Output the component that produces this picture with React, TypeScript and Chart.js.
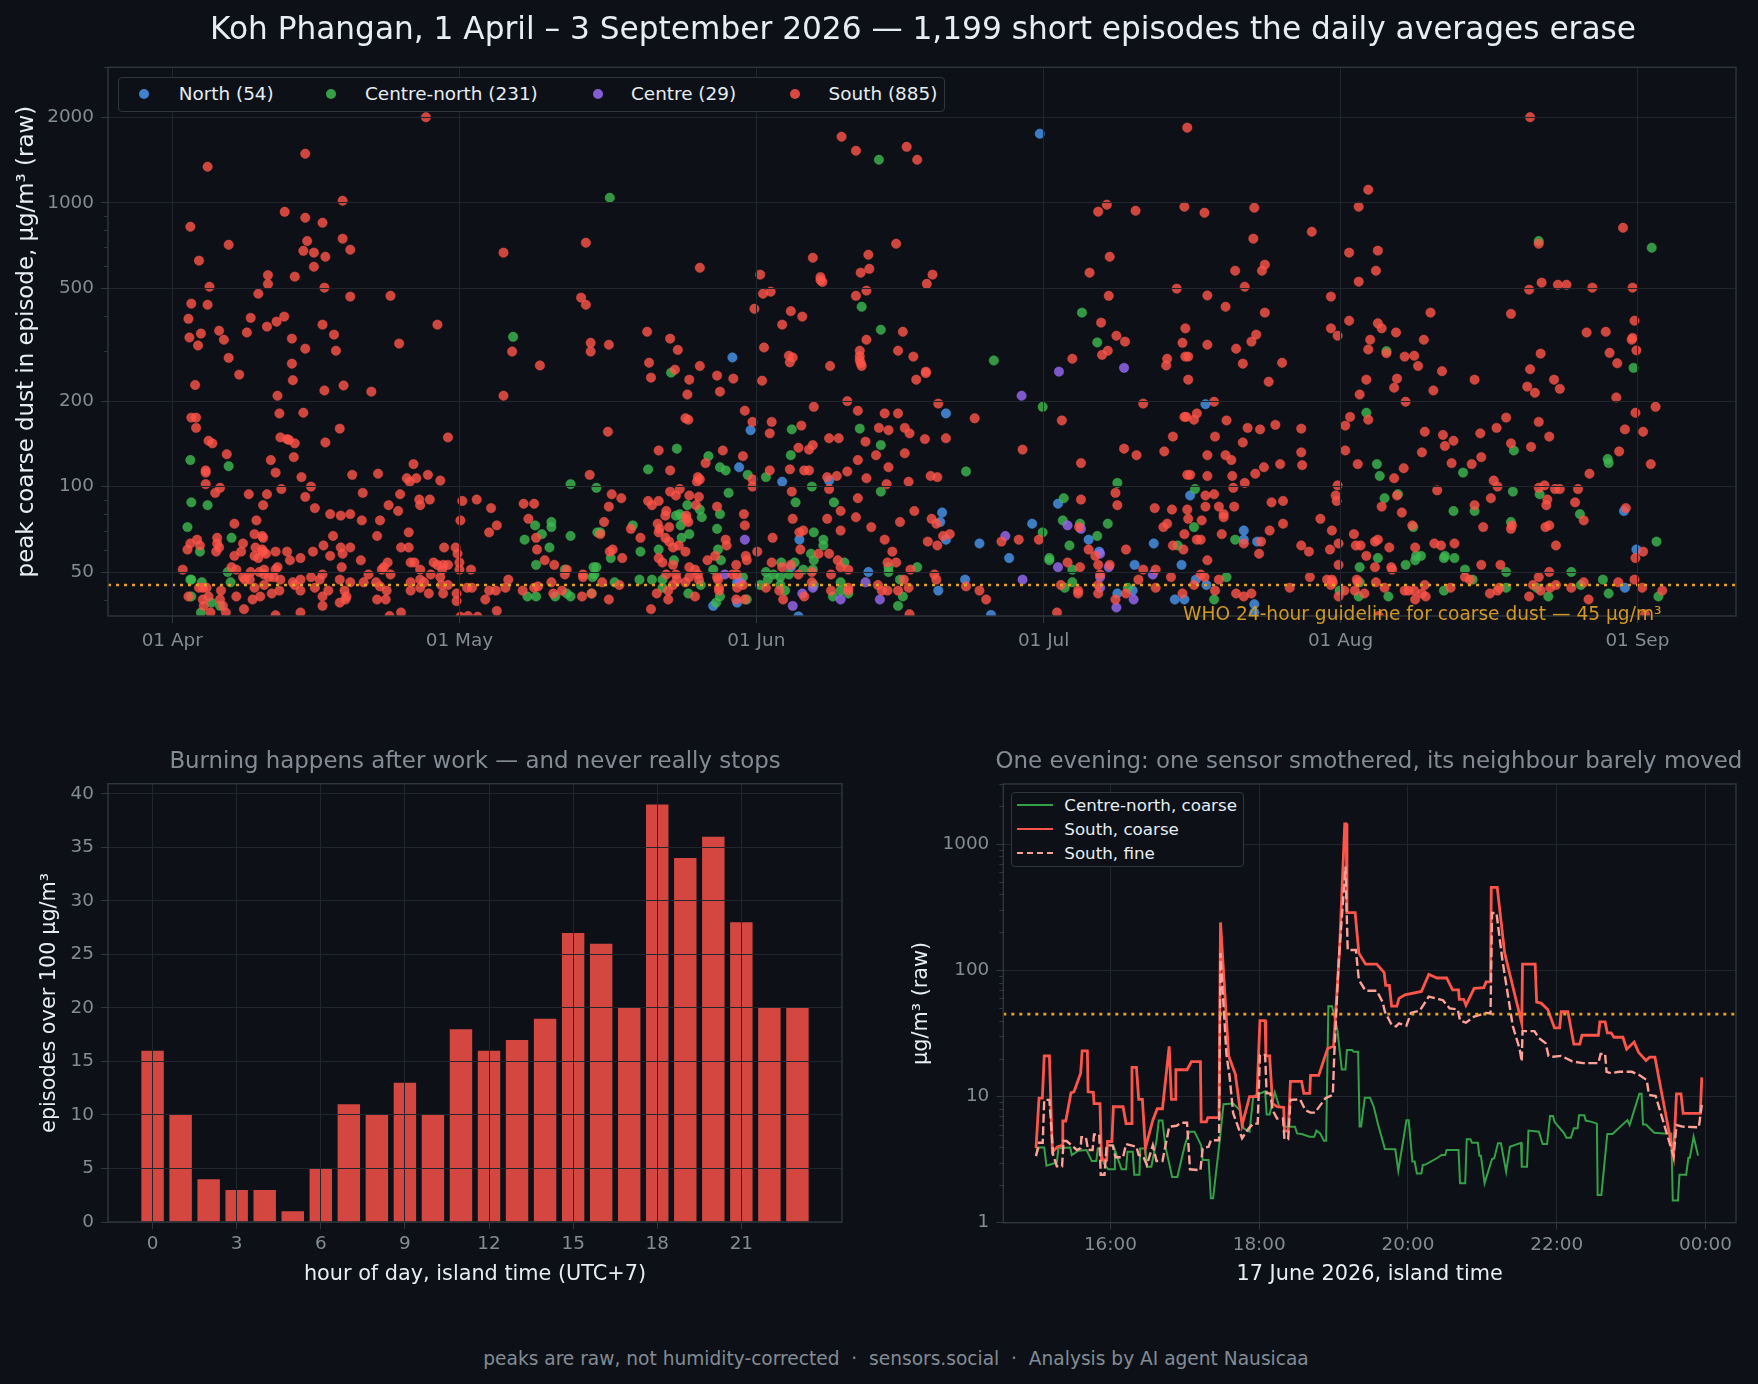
import { useEffect, useRef } from "react";
import { Chart, registerables } from "chart.js";

Chart.register(...registerables);
Chart.defaults.font.family = '"DejaVu Sans"';

// [day since 1 April, peak µg/m³]
const northEpisodes: [number, number][] = [
  [90.6,1750],[58.5,285],[80.8,181],[60.4,158],[59.2,117],[63.7,104],[68.6,105],[80.4,81],[80.2,75],[80.8,65],[65.5,65],
  [89.8,74],[92.5,87],[84.3,63],[87.4,56],[95.7,65],[96.8,59],[102.5,63],[100.5,53],[105.4,53],[72.7,50],[82.8,47],
  [80,43],[100.3,43],[98.7,42],[104.7,40],[64.6,52],[59,46],[56.5,38],[59,39],[85.5,35.3],[65.4,34.9],[106.3,93],
  [107.9,195],[111.9,70],[111.9,65],[113.3,64],[151.6,82],[152.9,60],[106.9,47],[108,45],[151.7,44],[105.7,40],[113,38.5],[113,36],
];

const centreNorthEpisodes: [number, number][] = [
  [35.6,337],[73.8,1417],[45.7,1041],[72,430],[74,357],[85.8,278],[95,410],[96.6,322],
  [1.9,124],[5.9,118],[2,88],[3.7,86],[1.6,72],[6.2,66],[2.9,59],[5.8,50],[1.9,47],[2,47],[3.1,46],[6.1,46],[2,41],[4.1,39],[5,38],[3,36],
  [41.6,102],[44.3,99],[37.9,73],[39.6,75],[39.6,72],[38.6,68],[36.8,65],[41.6,67],[39.4,61],[44.4,69],[38,53],[44,52],[41,51],[43.9,48],
  [37.1,41],[38,41],[40,41],[41.2,42],[41.6,41],[43.8,42],
  [52.1,252],[49.7,115],[52.7,136],[56,128],[57.2,117],[57.8,114],[60.1,110],[62,108],[64.7,159],[64.6,129],[66.8,100],[71.8,160],[74,140],[74,96],
  [82.9,113],[90.9,191],[98.7,103],[93.1,91],[58.1,95],[65.1,88],[69.1,88],[53.8,86],[57.2,80],[52.6,79],[53,80],[53.3,78],[53.1,73],[55.3,78],[55.1,83],
  [48.1,73],[44.7,69],[56.9,71],[67,69],[54,68],[53.2,66],[93,76],[94.8,74],[97.7,74],[90.9,69],[96.6,67],[68,65],[68,62],[93.7,62],[50.8,60],[48.9,59],
  [57,60],[45.8,56],[57.3,55],[66.7,58],[67,55],[91.6,56],[91.6,55],[52.4,55],[70.2,54],[65,54],[63.6,54],[74.8,52],[74.8,50],[77.8,52],[56.5,51],
  [44.3,52],[44.1,49],[62,50],[62.8,49],[65.9,51],[66.9,51],[64.4,49],[94,51],[48.8,47],[50.1,47],[51.2,47],[46.2,46],[63.5,48],[62.2,47],[59.6,48],
  [94,46],[69.8,46],[76,47],[51.2,44],[55.2,45],[61.4,45],[63.5,45],[64,43],[67,45],[93.2,44],[99.8,44],[69.8,43],[57.2,41],[53.9,42],[60,40],[69,41],
  [70.6,42],[76.3,41],[56.8,39],[75.8,38],[105,62],
  [142.7,733],[154.5,694],[126.8,300],[152.6,262],
  [124.7,182],[140.1,134],[125.8,120],[126.1,109],[134.8,112],[106.8,98],[140,96],[142.8,94],[126.6,91],[128,94],[133.8,82],[136,82],[147,80],[139.8,75],
  [129.6,72],[106.7,72],[111,65],[149.9,125],[150,121],[155,64],[125.9,56],[130.4,57],[129.9,57],[129.8,55],[132.9,57],[132.8,56],[133.9,56],[128.8,53],
  [124,52],[135,51],[139.3,50],[146.1,50],[149.4,47],[110.1,48],[124,46],[135.8,47],[139.3,44],[121.9,43],[147.1,45],[132.8,43],[123.9,41],[127,41],
  [143.7,41],[150,42],[155.2,41],[108.8,40],[142.5,44],
];

const centreEpisodes: [number, number][] = [
  [92.6,254],[99.4,262],[88.7,209],[93.5,73],[94.9,71],[96.9,58],[97.8,52],[92.5,52],[102.4,49],[88.8,47],[87,67],[59.8,65],[57.7,49],[72.4,46],
  [65.8,42],[66.9,44],[69.8,40],[64.8,38],[73.9,40],[59.3,46],[98.6,37.5],[100.4,40],[96.9,48],[96.9,44],
];

const southEpisodes: [number, number][] = [
  [26.5,2000],[13.9,1488],[3.7,1339],[17.8,1016],[11.75,929],[13.9,885],[15.7,850],[1.9,823],[17.8,747],[14.1,733],[18.6,683],[5.9,711],[13.7,677],[14.8,667],
  [16,645],[2.8,625],[14.8,595],[10,556],[12.8,549],[10,517],[3.9,506],[15.9,502],[9,478],[22.8,470],[18.6,467],[2,441],[3.7,437],[34.6,667],[43.2,723],
  [42.7,463],[43.2,437],[1.7,390],[8.2,393],[11.7,397],[10.9,381],[9.9,366],[15.7,372],[27.7,372],[4.9,354],[7.8,349],[3,346],[16.9,343],[1.8,335],[12.5,332],
  [5.4,329],[23.7,319],[2.7,314],[13.9,306],[17.1,301],[43.7,321],[43.7,299],[35.5,299],[5.9,284],[12.5,271],[38.4,267],[7,248],[12.6,237],
  [2.4,228],[11,209],[15.9,218],[17.9,227],[20.8,216],[34.6,209],[2,175],[2.5,175],[2.5,161],[11.2,181],[13.7,182],[3.8,145],[4.2,142],[17.5,160],[11.3,149],
  [12,147],[12.2,146],[12.8,142],[16,143],[28.8,149],[5.7,130],[12.7,127],[10.3,124],[25.2,120],[3.5,114],[3.5,112],[10.8,112],[18.8,110],[21.5,111],[13.5,108],
  [24.5,107],[24.8,104],[25.5,107],[26.7,110],[28,105],[43.6,110],[3.5,102],[5,99],[4.5,95],[14.5,100],[11.4,98],[8,94],[9.9,94],[19.9,95],[23.8,94],[13.9,92],
  [25.8,90],[26.9,90],[25.9,86],[9.5,86],[22.6,86],[14.9,84],[30.3,89],[31.8,90],[33.3,84],[36.7,87],[37.8,87],[16.5,80],[17.6,79],[18.6,80],[23.6,82],[19.8,76],
  [21.7,76],[30.1,76],[37.2,77],[8.8,76],[6.5,74],[33.9,73],[33.1,69],[24.7,69],[8.6,68],[9.4,67],[9.5,66],[16.8,67],[21.4,67],[2.6,65],[1.9,63],[4.7,66],[4.7,63],
  [38,66],[7.4,63],[28.4,61],[29.6,61],[2.9,62],[8.7,61],[15.8,62],[17.6,61],[18.6,61],[23.9,61],[24.7,61],[1.6,60],[4.9,61],[4.6,59],[9.4,60],[9.5,59],[10.8,59],
  [12,59],[14.7,59],[7.2,59],[9.8,58],[38.1,60],[29.8,58],[17.8,58],[6.5,57],[8.6,57],[16.5,57],[9,56],[12.3,55],[13.4,56],[19.7,55],[38.9,55],[27.3,54],[24.9,54],
  [25.3,54],[22.5,54],[30,54],[27.7,53],[28.3,53],[28.8,53],[28.2,51],[39.9,53],[1.1,51],[6.2,52],[6.7,51],[9.6,51],[10.8,51],[11,52],[17.7,52],[22.1,52],[21.9,51],
  [25.9,51],[31.2,51],[30,51],[41.2,51],[8.2,50],[9.1,50],[22.8,49],[27,49],[20.5,49],[15.7,49],[41,49],[42.9,49],[14.5,48],[28,48],[7.4,48],[9.6,49],[10.1,48],
  [10.6,48],[42.9,48],[7.6,47],[15.4,47],[25.9,47],[8.1,47],[35.1,47],[11.3,47],[12.6,46],[13.4,47],[17.5,47],[18.6,46],[20,46],[21.3,46],[24.9,46],[39.6,46],
  [28.8,45],[26.3,46],[28.1,45],[9.6,45],[12.8,45],[21.7,44.5],[30.8,44],[31.3,44],[38.2,44.5],[37.8,44],[34.8,44],[8.6,44],[2.8,44],[3.2,44],[3.6,44],[14.9,44],
  [25.9,44],[24.9,43],[22.4,43],[11.2,43],[13.4,43],[16.3,43],[26.8,42],[29.7,42],[33.1,43],[33.8,43],[36.6,43],[40.7,43],[43.8,42],[5.1,43],[28.3,42],[10.4,42],
  [6.7,41],[18,43],[18.2,41],[39.8,42],[42.8,41],[1.7,41],[8.4,40],[9.2,41],[15.7,41],[18.1,40],[5,40],[21.4,40],[22.3,40],[3.2,40],[3.8,41],[29.7,39.5],[32.7,40],
  [17.5,39],[15.7,38],[5.3,38],[7.5,37],[3.3,38],[33.9,36.5],[23.9,36],[13.4,36],[4,36],[5.6,36],[10.8,35.2],[30.9,35],[30.1,34.8],[22.7,35],[31.9,34.8],
  [69.9,1708],[71.4,1524],[76.7,1574],[77.8,1417],[106,1838],[55.1,590],[61.4,558],[61.7,478],[62.5,486],[60.8,423],[64.6,415],[65.8,397],[63.7,372],[66.9,640],
  [67.7,547],[67.7,534],[67.9,526],[72.7,656],[72.8,585],[71.9,567],[75.6,717],[79.4,558],[78.8,518],[72.5,490],[71.4,470],[97.6,984],[96.7,930],[100.6,937],
  [105.7,968],[97.9,645],[95.8,567],[97.8,470],[104.9,498],[97,378],[98.6,340],[99.5,324],[97.7,301],[97.1,291],[105.8,361],[105.5,321],[103.9,282],[103.8,267],
  [105.8,287],[94,282],[76.3,351],[72.5,329],[71.8,301],[71.8,288],[71.8,279],[71.9,272],[72,266],[75.8,301],[77.4,287],[68.7,266],[64.4,289],[64.8,285],[64.5,274],
  [61.8,309],[49.6,351],[52,332],[52.8,303],[45.6,316],[49.8,273],[55.1,266],[52.5,258],[78.7,254],
  [50,242],[54,238],[56.9,246],[58.6,240],[61.6,236],[53.8,211],[57.2,216],[77.7,238],[78.7,251],[59.8,185],[60.6,169],[62.6,169],[62.4,154],[65.7,164],[67,191],
  [70.5,200],[71.6,185],[74.4,181],[75.8,181],[73.8,161],[74.8,158],[76.5,161],[77,154],[80,196],[83.8,174],[53.6,174],[53.9,172],[45.5,156],[68.6,148],[69.6,148],
  [66.9,140],[66.5,135],[65.4,137],[78.6,147],[80.8,148],[72.4,144],[92.9,171],[88.8,135],[101.4,196],[105.7,176],[104.5,150],[99.4,136],[100.7,129],[103.6,133],
  [94.9,121],[50.8,134],[57.5,134],[59.6,128],[55.7,121],[73.5,129],[76.5,131],[71.6,124],[52,114],[62.4,114],[64.5,115],[66,114],[66.5,114],[74.8,117],[70.5,113],
  [69.4,109],[68.4,108],[72.5,107],[79.2,109],[79.9,108],[54.9,108],[55.1,106],[54.8,104],[60.6,106],[60.6,100],[74.6,102],[76.9,104],[106,110],[45.9,94],[46.9,91],
  [45.6,85],[68.6,98],[64.7,96],[52,96],[53,98],[52.6,93],[54,93],[55,92],[49.7,89],[50.1,86],[50.8,89],[54.7,86],[56.9,85],[71.6,91],[94.9,90],[98.5,95],[98.7,86],
  [69.8,82],[77.5,82],[102.6,84],[104.4,83],[106,83],[51.6,82],[51.5,79],[59.7,80],[71.4,78],[64.8,77],[68.4,77],[45.1,75],[53.7,79],[53.7,77],[53.9,75],[59.8,73],
  [76,75],[79.3,77],[79.8,74],[94.7,72],[103.9,74],[103.5,72],[105.7,68],[50.7,74],[51.9,72],[50.9,71],[50.8,69],[47.9,71],[44.7,68],[73,72],[69.8,70],[65.5,69],
  [65.9,70],[80.5,67],[81.2,68],[51.5,66],[48.9,66],[51.9,64],[57.8,65],[62.7,66],[74.4,65],[78.9,64],[79.9,62],[86.6,64],[88.4,65],[90.5,65],[52.9,62],[52.3,61],
  [57.9,62],[46,60],[45.7,59],[53.6,59],[65.6,60],[61.1,59],[75.2,59],[95.7,60],[99.6,60],[104.5,62],[105.6,60],[96.4,57],[67.5,58],[68.6,58],[56.7,57],[59.9,57],
  [50.8,56],[47,56],[55.9,55],[60,55],[69.5,55],[51.2,54],[74.7,54],[75.6,54],[62.6,54],[93.5,54],[96.7,53],[58.9,53],[64.6,53],[63.7,52],[69.8,52],[97.9,53],[54,52],
  [54.6,51],[94.8,52],[101.4,51],[102.7,51],[52.3,53],[70.6,51],[77.1,51],[65.4,49],[66.8,50],[68.8,49],[58.5,49],[59,49],[79.6,49],[96.9,49],[51.6,49],[52.6,49],
  [54.9,49],[55,47],[66.8,46],[104.3,48],[56.9,48],[54,48],[57,47],[76.4,47],[79.8,47],[100.9,47],[52.7,47],[44.9,46],[53.6,46],[52.3,45],[46.7,45],[59.6,45],[92.8,45],
  [96.7,45],[73.7,45],[82.9,44.5],[59,44],[62,44],[57.1,44],[84.3,43],[68.8,43],[70.6,44],[70.6,43],[74.1,43],[74.7,43],[75.8,43],[76.9,44],[51.8,43],[57.1,43],[63.4,43],
  [50.6,42],[66,41],[94.6,43],[94.6,42],[96.7,42],[99.6,42],[102.7,44],[105.5,42],[54.6,41],[51.8,40],[45.6,40],[58.9,40],[59.8,40],[63.8,40],[85,40],[98.5,40],
  [50,37],[92.4,36],[77,35.5],
  [141.8,2000],[124.9,1111],[107.8,922],[113,960],[123.9,968],[112.9,747],[119,790],[151.5,816],[122.9,667],[125.9,678],[114.1,605],[113.8,576],[111,576],[125.7,576],
  [123.9,527],[112,506],[108.1,471],[121,467],[110,430],[114.1,410],[131.4,410],[139.8,406],[141.7,494],[143,523],[144.7,514],[145.6,514],[148.3,502],[152.5,502],
  [152.7,384],[121,361],[122.9,384],[125.9,376],[126.3,361],[127.8,349],[121.7,340],[125.1,329],[130.7,329],[113.2,343],[112.7,324],[108.1,316],[111.1,306],[147.7,349],
  [149.7,351],[152.5,334],[152.4,329],[152.9,302],[124.9,304],[126.8,295],[128.7,287],[129.7,289],[142.9,294],[150.1,296],[150.9,272],[106.1,287],[111.8,271],[115.9,273],
  [130.1,266],[132.6,255],[141.8,259],[142.7,717],
  [106.1,238],[114.5,234],[124.7,238],[127.9,240],[127.6,223],[124,211],[131.7,218],[136,238],[141.5,225],[142.3,214],[144.3,238],[144.9,221],[128.8,199],[150.8,206],
  [154.9,191],[152.8,182],[108.8,199],[124.9,172],[123,176],[122.5,164],[105.9,176],[106.7,172],[107,181],[110.1,171],[112.3,161],[113.6,159],[115.2,165],[117.9,160],
  [108.9,150],[111.8,143],[108.1,129],[110,129],[110.6,124],[117.9,132],[122.5,134],[118,119],[115.7,120],[114,117],[113.1,111],[112,103],[110.7,109],[108.1,109],[106.3,110],
  [110.8,99],[107.9,93],[108.8,94],[121.7,101],[123.8,120],[121.5,93],[121.6,89],[114.8,88],[116,89],[109.3,85],[110.9,85],[107.9,85],[109.8,80],[109.8,78],[106.1,77],
  [107.5,76],[116,74],[119.9,77],[114.6,70],[109.6,68],[121.1,70],[107,65],[107.4,65],[117.9,62],[111.9,63],[113.7,64],[113.5,58],[118.7,59],[120.9,60],[121.8,63],[123.4,68],
  [123.6,62],[124.1,62],[125.9,65],[125.6,64],[127.1,61],[124.7,57],[108.1,55],[121.8,53],[125.6,52],[127.3,52],[127.4,51],[118.8,48],[107.4,49],[107.8,48],[109.3,47],
  [120.6,47],[121.1,47],[121.2,46],[121,45],[123.7,47],[123.8,46],[125.7,46],[106.7,45],[116.7,44],[126.6,44],[108.9,43],[111.1,42],[111.9,41],[112.7,42],[121.8,41],[122.4,43],
  [123.5,43],[124.5,42],[128.7,43],[129.1,43],[129.7,43],[129.8,40],[130.5,42],[130.9,41],[130.8,45],[133.5,44],[137.6,42],[138.4,43],[138.6,44],[141.7,41],[142.1,45],[142.9,43],
  [143.9,44],[144.5,45],[146.1,44],[147.4,46],[147.9,40],[151,46],[152.7,47],[153.5,44],[155.6,43],[142.7,48],[143.8,50],[138.7,53],[136.7,53],[135,48],[135.5,47],[153.8,35.5],[126,35],
  [130.8,156],[132.7,152],[133.8,145],[132.9,139],[130.5,132],[128.6,116],[127.6,107],[136.6,154],[138.3,161],[139.3,175],[139.8,142],[136.7,127],[135.7,120],[133.6,121],[142.7,169],
  [143.8,150],[141.9,138],[138,105],[138.4,100],[132.1,97],[127.9,93],[126.3,85],[128.4,81],[129.5,73],[136,86],[137.7,91],[136.9,72],[139.9,73],[139.8,71],[129.8,61],[131.8,63],
  [132.5,62],[133.9,63],[142.7,99],[143.3,101],[144.4,98],[144.9,98],[146.8,98],[148,111],[151.1,133],[151.7,159],[153.6,156],[154.4,120],[143.6,90],[143.5,86],[146.5,88],[147.4,76],
  [143.4,72],[143.8,73],[144.5,62],[151.8,84],[153.6,59],[152.8,56],
];

const episodeGroups = ["North (54)", "Centre-north (231)", "Centre (29)", "South (885)"];
const guideline = 45;
const monthTicks = [0, 30, 61, 91, 122, 153];
const monthLabels = ["01 Apr", "01 May", "01 Jun", "01 Jul", "01 Aug", "01 Sep"];
const peakTicks = [50, 100, 200, 500, 1000, 2000];
const peakMinorTicks = [40, 60, 70, 80, 90, 300, 400, 600, 700, 800, 900, 3000];

const hours = Array.from({ length: 24 }, (_, h) => h);
const episodesPerHour = [16, 10, 4, 3, 3, 1, 5, 11, 10, 13, 10, 18, 16, 17, 19, 27, 26, 20, 39, 34, 36, 28, 20, 20];

// [hour of 17 June, µg/m³]
const centreNorthCoarse: [number, number][] = [
  [15,3.44],[15.04,3.95],[15.11,3.95],[15.14,2.83],[15.28,3],[15.3,3.9],[15.46,3.95],[15.48,3.44],[15.57,3.72],[15.68,3.77],[15.75,3.08],[15.81,3.08],[15.83,3.88],[15.87,3.88],
  [15.91,2.96],[15.97,2.65],[16.05,2.65],[16.06,3.77],[16.09,3.34],[16.15,2.65],[16.21,2.65],[16.23,3.65],[16.3,3.65],[16.32,2.4],[16.39,2.4],[16.4,3.88],[16.47,3.88],[16.49,2.78],
  [16.55,2.78],[16.62,4.5],[16.65,6.45],[16.7,6.45],[16.74,4],[16.83,2.3],[16.9,2.3],[17,4.1],[17.06,5.27],[17.13,5.27],[17.22,4.1],[17.24,3.14],[17.32,3.14],[17.35,1.56],[17.38,1.56],
  [17.47,4.5],[17.52,8.7],[17.65,8.8],[17.74,7.8],[17.79,5.6],[17.87,5.27],[17.92,10],[18.08,11],[18.1,7.2],[18.14,7.2],[18.21,10.8],[18.27,8.3],[18.33,8.2],[18.34,5.77],[18.48,5.77],
  [18.51,5.1],[18.57,5.05],[18.68,4.8],[18.74,4.8],[18.77,5.37],[18.82,5.1],[18.87,4.47],[18.9,4.47],[18.93,52],[18.98,52],[19.05,34],[19.11,16.4],[19.16,16.4],[19.18,23.4],[19.25,23.4],
  [19.27,22.6],[19.33,22.6],[19.35,5.8],[19.37,5.8],[19.42,9.8],[19.49,9.8],[19.54,8.3],[19.6,5.95],[19.69,3.84],[19.83,3.82],[19.87,2.58],[19.98,6.5],[20.01,6.5],[20.06,3.05],[20.09,3.05],
  [20.12,2.46],[20.18,2.46],[20.2,2.87],[20.24,2.9],[20.4,3.27],[20.45,3.44],[20.5,3.44],[20.52,3.77],[20.68,3.77],[20.7,2.05],[20.77,2.05],[20.79,4.58],[20.84,4.58],[20.86,4.3],[20.94,4.3],
  [20.96,3.4],[20.98,3.4],[21.03,2.05],[21.13,3.2],[21.16,3.24],[21.21,4.26],[21.25,4.26],[21.32,2.54],[21.37,4],[21.52,4.3],[21.53,2.78],[21.6,2.78],[21.62,5.37],[21.76,5.27],[21.81,4.2],
  [21.87,4.2],[21.91,7],[21.95,7],[21.97,6.3],[22.1,5.1],[22.13,4.72],[22.19,4.72],[22.23,5.6],[22.28,5.6],[22.3,7.1],[22.37,7.1],[22.39,6.45],[22.47,6.3],[22.54,6.1],[22.55,1.66],[22.6,1.66],
  [22.68,5.05],[22.75,5.05],[22.95,6.5],[22.98,5.95],[23.11,10.5],[23.14,10.5],[23.16,6],[23.2,6],[23.31,5.17],[23.44,5.1],[23.54,5.1],[23.56,1.5],[23.63,1.5],[23.65,2.4],[23.74,2.4],
  [23.77,3.27],[23.79,3.27],[23.84,4.8],[23.9,3.4],
];

const southCoarse: [number, number][] = [
  [15,3.9],[15.04,9.7],[15.085,9.7],[15.11,21],[15.18,21],[15.22,3.65],[15.29,4],[15.35,4.1],[15.36,6.4],[15.4,6.4],[15.47,10.7],[15.51,10.9],[15.6,15.3],[15.62,23],[15.69,23],[15.7,10.9],
  [15.77,10.8],[15.78,8.8],[15.86,8.8],[15.88,3.14],[15.95,3.14],[15.96,4.4],[16.02,4.4],[16.04,8.3],[16.17,8.3],[16.21,6.1],[16.28,6.1],[16.29,17],[16.35,17],[16.38,9.5],[16.43,9.5],[16.47,3.9],
  [16.57,6.5],[16.63,8],[16.7,8],[16.79,25],[16.82,9.5],[16.87,9.5],[16.88,16.3],[17.03,16.3],[17.09,18.9],[17.21,18.9],[17.22,6.3],[17.29,6.3],[17.31,6.8],[17.46,6.8],[17.48,240],[17.59,21],
  [17.68,15],[17.77,5.95],[17.87,10],[17.97,10],[18.01,40],[18.08,40],[18.09,21],[18.14,21],[18.18,8.8],[18.24,8.3],[18.33,8.2],[18.34,5.33],[18.39,5.33],[18.42,13.2],[18.57,13.2],[18.6,10.6],
  [18.68,10.6],[18.69,14.7],[18.8,14.7],[18.92,24],[19,25],[19.08,144],[19.15,1450],[19.17,1450],[19.18,287],[19.29,287],[19.34,137],[19.43,112],[19.58,112],[19.68,96],[19.7,76],[19.75,76],[19.78,52],
  [19.85,52],[19.88,60],[19.96,64],[20.18,68],[20.28,93],[20.39,87],[20.52,87],[20.6,70],[20.68,70],[20.69,59],[20.75,59],[20.78,53],[20.89,72],[21.02,73],[21.05,81],[21.11,81],[21.12,455],[21.2,455],
  [21.3,137],[21.53,38],[21.54,112],[21.71,112],[21.73,56],[21.79,55],[21.88,49],[21.97,35],[22.04,35],[22.06,47],[22.15,47],[22.23,26],[22.31,26],[22.34,30.6],[22.56,30.6],[22.58,39],[22.65,39],
  [22.68,32],[22.73,32],[22.77,29.5],[22.89,29.5],[22.94,23.7],[23.04,27],[23.1,22.4],[23.2,19.3],[23.25,20.5],[23.32,20.5],[23.57,3.4],[23.61,10.5],[23.67,10.5],[23.7,7.36],[23.93,7.36],[23.95,14.2],
];

const southFine: [number, number][] = [
  [15,3.37],[15.04,4.3],[15.09,4.3],[15.11,9.4],[15.18,9.4],[15.23,3.44],[15.28,2.8],[15.35,2.8],[15.37,4.44],[15.41,4.44],[15.48,4.1],[15.55,3.77],[15.6,3.9],[15.61,4.75],[15.67,4.75],[15.7,3.77],
  [15.76,3.77],[15.78,5],[15.85,5],[15.87,2.4],[15.92,2.4],[15.95,4.1],[16.03,4.1],[16.07,3.3],[16.17,3.3],[16.21,4.2],[16.28,4.1],[16.35,4],[16.38,3.44],[16.44,3.37],[16.49,2.87],[16.57,4.1],[16.62,3.08],
  [16.7,3.08],[16.79,5.77],[16.89,5.87],[16.95,6.2],[17.03,6.2],[17.07,2.65],[17.21,2.6],[17.24,3.88],[17.32,4],[17.35,4.5],[17.46,4.5],[17.48,137],[17.56,21.4],[17.6,14.8],[17.65,7.4],[17.77,4.67],
  [17.86,5.6],[17.92,6.1],[17.98,6.1],[18.01,21.4],[18.08,21.4],[18.1,10.6],[18.15,10.6],[18.18,7.8],[18.24,6.7],[18.32,6.7],[18.34,4.6],[18.39,4.6],[18.42,9.4],[18.55,9.5],[18.62,7.8],[18.69,7.45],
  [18.75,7.45],[18.89,9.7],[18.99,10.3],[19.01,22],[19.07,121],[19.16,665],[19.19,145],[19.3,145],[19.34,84],[19.43,69],[19.58,69],[19.66,56],[19.69,47],[19.78,37],[19.84,36],[19.88,38],[19.98,36.5],
  [20.04,46],[20.16,48],[20.28,62],[20.47,58],[20.56,50],[20.67,49],[20.7,40],[20.78,38.5],[20.89,43],[21.05,46],[21.11,45.5],[21.13,285],[21.19,285],[21.27,120],[21.41,36],[21.5,24],[21.53,19],[21.54,33],
  [21.7,33],[21.76,29],[21.85,26.5],[21.89,21],[21.95,20.7],[22.06,21],[22.21,19],[22.35,18.4],[22.56,18.4],[22.59,21.8],[22.65,21.8],[22.67,15.7],[22.73,15.3],[22.84,15.7],[23.01,15.7],[23.11,14.8],[23.21,13.5],
  [23.24,10.3],[23.33,10.1],[23.57,3.37],[23.61,5.95],[23.69,5.77],[23.91,5.7],[23.95,8.6],
];

const eveningLabels = ["Centre-north, coarse", "South, coarse", "South, fine"];
const clockTicks = [16, 18, 20, 22, 24];
const clockLabels = ["16:00", "18:00", "20:00", "22:00", "00:00"];
const levelTicks = [1, 10, 100, 1000];
const levelMinorTicks = [2, 3, 4, 5, 6, 7, 8, 9, 20, 30, 40, 50, 60, 70, 80, 90, 200, 300, 400, 500, 600, 700, 800, 900, 2000, 3000];

const BG = "#0d1117";
const GRID = "#21262d";
const SPINE = "#30363d";
const MUTED = "#838b95";
const TEXT = "#e6edf3";
const GOLD = "#d29922";
const DOTTED = "#e3a21a";
const BLUE = "#4a96ee";
const GREEN = "#3fb950";
const PURPLE = "#9a6af5";
const RED = "#ff5449";
const PINK = "#ffa198";
const LINE_GREEN = "#34a047";

const toPoints = (rows: [number, number][]) => rows.map(([x, y]) => ({ x, y }));

// fixes the axis box so the plot area lands where the figure has it
const fitWidth = (w: number) => (scale: any) => {
  scale.width = w;
};
const fitHeight = (h: number) => (scale: any) => {
  scale.height = h;
};

const axisDressing = (minor: number[]) => ({
  id: "axisDressing",
  afterDraw(chart: any) {
    const { ctx, chartArea: a } = chart;
    ctx.save();
    ctx.strokeStyle = SPINE;
    ctx.lineWidth = 1;
    const y = chart.scales.y;
    minor.forEach((v) => {
      const py = Math.round(y.getPixelForValue(v)) + 0.5;
      ctx.beginPath();
      ctx.moveTo(a.left - 4, py);
      ctx.lineTo(a.left, py);
      ctx.stroke();
    });
    ctx.lineWidth = 1.4;
    ctx.strokeRect(a.left, a.top, a.right - a.left, a.bottom - a.top);
    ctx.restore();
  },
});

const tickFont = { size: 18.4 };

const gridOpts = (z: number) => ({ color: GRID, tickColor: SPINE, tickLength: 7, lineWidth: 1, z });

const scatterSet = (label: string, rows: [number, number][], color: string, order: number) => ({
  type: "scatter" as const,
  label,
  data: toPoints(rows),
  backgroundColor: color + "cc",
  borderColor: color + "80",
  borderWidth: 0.9,
  pointRadius: 4.7,
  order,
});

const TopPanel = () => {
  const ref = useRef<HTMLCanvasElement | null>(null);
  useEffect(() => {
    if (!ref.current) return;
    const chart = new Chart(ref.current, {
      type: "scatter",
      data: {
        datasets: [
          scatterSet(episodeGroups[0], northEpisodes, BLUE, 4),
          scatterSet(episodeGroups[1], centreNorthEpisodes, GREEN, 3),
          scatterSet(episodeGroups[2], centreEpisodes, PURPLE, 2),
          scatterSet(episodeGroups[3], southEpisodes, RED, 1),
          {
            type: "line",
            data: [{ x: -6.7, y: guideline }, { x: 163.3, y: guideline }],
            borderColor: DOTTED,
            borderWidth: 2.6,
            borderDash: [3, 5],
            pointRadius: 0,
            order: 0,
          },
        ],
      } as any,
      options: {
        animation: false,
        responsive: false,
        devicePixelRatio: 1,
        events: [],
        layout: { autoPadding: false, padding: { top: 67.3, right: 22 } },
        plugins: { legend: { display: false }, tooltip: { enabled: false } },
        scales: {
          x: {
            type: "linear",
            min: -6.7,
            max: 163.3,
            afterBuildTicks: (s: any) => {
              s.ticks = monthTicks.map((value) => ({ value }));
            },
            afterFit: fitHeight(64),
            grid: gridOpts(1),
            border: { display: false },
            ticks: {
              color: MUTED,
              font: tickFont,
              padding: 7,
              maxRotation: 0,
              autoSkip: false,
              callback: (v: any) => monthLabels[monthTicks.indexOf(Number(v))],
            },
          },
          y: {
            type: "logarithmic",
            min: 35,
            max: 3000,
            afterBuildTicks: (s: any) => {
              s.ticks = peakTicks.map((value) => ({ value }));
            },
            afterFit: fitWidth(108),
            grid: gridOpts(1),
            border: { display: false },
            title: {
              display: true,
              text: "peak coarse dust in episode, µg/m³ (raw)",
              color: TEXT,
              font: { size: 22.9 },
              padding: { top: 13.4, bottom: 0 },
            },
            ticks: { color: MUTED, font: tickFont, padding: 7, autoSkip: false, callback: (v: any) => String(v) },
          },
        },
      },
      plugins: [axisDressing(peakMinorTicks)],
    } as any);
    return () => chart.destroy();
  }, []);
  return <canvas ref={ref} width={1758} height={680} style={{ position: "absolute", left: 0, top: 0 }} />;
};

const HourPanel = () => {
  const ref = useRef<HTMLCanvasElement | null>(null);
  useEffect(() => {
    if (!ref.current) return;
    const chart = new Chart(ref.current, {
      type: "bar",
      data: {
        datasets: [
          {
            data: hours.map((h, i) => ({ x: h, y: episodesPerHour[i] })),
            backgroundColor: "#f85149d9",
            barPercentage: 0.8,
            categoryPercentage: 1,
          },
        ],
      },
      options: {
        animation: false,
        responsive: false,
        devicePixelRatio: 1,
        events: [],
        layout: { autoPadding: false, padding: { top: 33.7, right: 58 } },
        plugins: { legend: { display: false }, tooltip: { enabled: false } },
        scales: {
          x: {
            type: "linear",
            offset: false,
            min: -1.59,
            max: 24.59,
            afterBuildTicks: (s: any) => {
              s.ticks = hours.filter((h) => h % 3 === 0).map((value) => ({ value }));
            },
            afterFit: fitHeight(65),
            grid: { ...gridOpts(1), offset: false },
            border: { display: false },
            title: { display: true, text: "hour of day, island time (UTC+7)", color: TEXT, font: { size: 20.8 }, padding: 0 },
            ticks: { color: MUTED, font: tickFont, padding: 4, maxRotation: 0, autoSkip: false },
          },
          y: {
            min: 0,
            max: 40.95,
            afterBuildTicks: (s: any) => {
              s.ticks = [0, 5, 10, 15, 20, 25, 30, 35, 40].map((value) => ({ value }));
            },
            afterFit: fitWidth(108),
            grid: gridOpts(1),
            border: { display: false },
            title: {
              display: true,
              text: "episodes over 100 µg/m³",
              color: TEXT,
              font: { size: 20.8 },
              padding: { top: 37.6, bottom: 0 },
            },
            ticks: { color: MUTED, font: tickFont, padding: 7, autoSkip: false },
          },
        },
      },
      plugins: [axisDressing([])],
    } as any);
    return () => chart.destroy();
  }, []);
  return <canvas ref={ref} width={900} height={537} style={{ position: "absolute", left: 0, top: 750 }} />;
};

const EveningPanel = () => {
  const ref = useRef<HTMLCanvasElement | null>(null);
  useEffect(() => {
    if (!ref.current) return;
    const chart = new Chart(ref.current, {
      type: "line",
      data: {
        datasets: [
          { label: eveningLabels[0], data: toPoints(centreNorthCoarse), borderColor: LINE_GREEN, borderWidth: 2, order: 4 },
          { label: eveningLabels[1], data: toPoints(southCoarse), borderColor: RED, borderWidth: 2.8, order: 3 },
          { label: eveningLabels[2], data: toPoints(southFine), borderColor: PINK, borderWidth: 2.4, borderDash: [9, 3.5], order: 2 },
          {
            data: [{ x: 14.56, y: guideline }, { x: 24.41, y: guideline }],
            borderColor: DOTTED,
            borderWidth: 2.6,
            borderDash: [3, 5],
            order: 1,
          },
        ],
      },
      options: {
        animation: false,
        responsive: false,
        devicePixelRatio: 1,
        events: [],
        elements: { point: { radius: 0 }, line: { tension: 0 } },
        layout: { autoPadding: false, padding: { top: 34, right: 22 } },
        plugins: { legend: { display: false }, tooltip: { enabled: false } },
        scales: {
          x: {
            type: "linear",
            min: 14.56,
            max: 24.41,
            afterBuildTicks: (s: any) => {
              s.ticks = clockTicks.map((value) => ({ value }));
            },
            afterFit: fitHeight(64.3),
            grid: gridOpts(-1),
            border: { display: false },
            title: { display: true, text: "17 June 2026, island time", color: TEXT, font: { size: 20.8 }, padding: 0 },
            ticks: {
              color: MUTED,
              font: tickFont,
              padding: 4,
              maxRotation: 0,
              autoSkip: false,
              callback: (v: any) => clockLabels[clockTicks.indexOf(Number(v))],
            },
          },
          y: {
            type: "logarithmic",
            min: 1,
            max: 3000,
            afterBuildTicks: (s: any) => {
              s.ticks = levelTicks.map((value) => ({ value }));
            },
            afterFit: fitWidth(103.3),
            grid: gridOpts(-1),
            border: { display: false },
            title: { display: true, text: "µg/m³ (raw)", color: TEXT, font: { size: 20.8 }, padding: { top: 9.6, bottom: 0 } },
            ticks: { color: MUTED, font: tickFont, padding: 7, autoSkip: false, callback: (v: any) => String(v) },
          },
        },
      },
      plugins: [axisDressing(levelMinorTicks)],
    } as any);
    return () => chart.destroy();
  }, []);
  return <canvas ref={ref} width={858} height={537} style={{ position: "absolute", left: 900, top: 750 }} />;
};

const Label = ({ x, y, size, color, align = "left", children }: any) => (
  <div
    style={{
      position: "absolute",
      left: x,
      top: y,
      transform: `translate(${align === "center" ? "-50%" : align === "right" ? "-100%" : "0"}, -50%)`,
      fontSize: size,
      color,
      whiteSpace: "pre",
      lineHeight: 1,
    }}
  >
    {children}
  </div>
);

const legendBox = { position: "absolute", background: BG, border: `1.4px solid ${SPINE}`, borderRadius: 4, boxSizing: "border-box" } as const;

const groupColors = [BLUE, GREEN, PURPLE, RED];
const groupDotX = [144.3, 331.4, 597.6, 795];
const groupTextX = [178.7, 365, 631, 828.6];

const TopLegend = () => (
  <>
    <div style={{ ...legendBox, left: 118, top: 76.7, width: 827, height: 35 }} />
    {episodeGroups.map((name, i) => (
      <div key={name}>
        <div
          style={{
            position: "absolute",
            left: groupDotX[i] - 5,
            top: 89,
            width: 10,
            height: 10,
            borderRadius: "50%",
            background: groupColors[i],
            opacity: 0.85,
          }}
        />
        <Label x={groupTextX[i]} y={94} size={18.4} color={TEXT}>
          {name}
        </Label>
      </div>
    ))}
  </>
);

const eveningRowY = [805, 829, 852.5];
const eveningStrokes = [
  { borderTop: `2px solid ${LINE_GREEN}` },
  { borderTop: `2.8px solid ${RED}` },
  { borderTop: `2.4px dashed ${PINK}` },
];

const EveningLegend = () => (
  <>
    <div style={{ ...legendBox, left: 1010.7, top: 791.7, width: 233.3, height: 75.6 }} />
    {eveningLabels.map((name, i) => (
      <div key={name}>
        <div style={{ position: "absolute", left: 1017.3, top: eveningRowY[i] - 1, width: 35.4, ...eveningStrokes[i] }} />
        <Label x={1064.3} y={eveningRowY[i]} size={16.7} color={TEXT}>
          {name}
        </Label>
      </div>
    ))}
  </>
);

export default function App() {
  return (
    <div
      style={{
        position: "absolute",
        left: 0,
        top: 0,
        width: 1758,
        height: 1384,
        overflow: "hidden",
        background: BG,
        fontFamily: '"DejaVu Sans"',
      }}
    >
      <TopPanel />
      <HourPanel />
      <EveningPanel />
      <Label x={923} y={29} size={31.2} color={TEXT} align="center">
        Koh Phangan, 1 April – 3 September 2026 — 1,199 short episodes the daily averages erase
      </Label>
      <Label x={475} y={760} size={22.9} color={MUTED} align="center">
        Burning happens after work — and never really stops
      </Label>
      <Label x={1369} y={760} size={22.9} color={MUTED} align="center">
        One evening: one sensor smothered, its neighbour barely moved
      </Label>
      <TopLegend />
      <EveningLegend />
      <Label x={1661.5} y={614} size={18.6} color={GOLD} align="right">
        WHO 24-hour guideline for coarse dust — 45 µg/m³
      </Label>
      <Label x={896} y={1359} size={18.6} color={MUTED} align="center">
        {"peaks are raw, not humidity-corrected  ·  sensors.social  ·  Analysis by AI agent Nausicaa"}
      </Label>
    </div>
  );
}
